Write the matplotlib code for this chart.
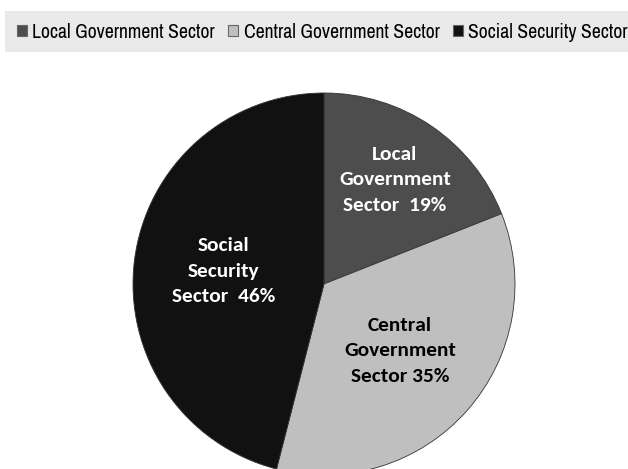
import numpy as np
import matplotlib
matplotlib.use("Agg")
import matplotlib.pyplot as plt
from matplotlib.patches import Rectangle, Patch
from matplotlib import font_manager as fm

categories = ["Local Government Sector", "Central Government Sector", "Social Security Sector"]
values = [19, 35, 46]
labels = ["Local\nGovernment\nSector  19%", "Central\nGovernment\nSector 35%", "Social\nSecurity\nSector  46%"]
colors = ["#4d4d4d", "#bfbfbf", "#111111"]
label_colors = ["white", "black", "white"]
label_dist = [0.66, 0.53, 0.53]

names = {f.name for f in fm.fontManager.ttflist}
legend_font = next((n for n in ["Liberation Sans Narrow", "Archivo Narrow", "Liberation Sans"] if n in names))
label_font = "Carlito" if "Carlito" in names else "Open Sans"

W, H = 628, 469
fig = plt.figure(figsize=(W / 100, H / 100), dpi=100)

# legend band
fig.patches.append(Rectangle((5 / W, 1 - 52 / H), (W - 5) / W, 41 / H,
                             transform=fig.transFigure, facecolor="#e9e9e9",
                             edgecolor="none", zorder=0))

cx, cy, r = 324, 284, 191
ax = fig.add_axes([(cx - r) / W, (H - cy - r) / H, 2 * r / W, 2 * r / H])
wedges, _ = ax.pie(values, colors=colors, startangle=90, counterclock=False,
                   radius=1.0, wedgeprops=dict(edgecolor="#333333", linewidth=0.6))
ax.set_xlim(-1, 1)
ax.set_ylim(-1, 1)
ax.set_aspect("equal")
ax.axis("off")

for w, lab, c, d in zip(wedges, labels, label_colors, label_dist):
    ang = np.deg2rad((w.theta1 + w.theta2) / 2)
    ax.text(d * np.cos(ang), d * np.sin(ang), lab, ha="center", va="center",
            color=c, fontsize=15.4, fontweight="bold", family=label_font,
            linespacing=1.6)

fs = 14.2
handles = [Patch(facecolor=c, edgecolor="#666666", linewidth=0.8) for c in colors]
fig.legend(handles, categories, loc="center left", bbox_to_anchor=(17 / W, 1 - 32 / H),
           ncol=3, frameon=False, prop=dict(family=legend_font, size=fs),
           handlelength=0.52, handleheight=0.52, handletextpad=0.26, columnspacing=0.67,
           borderaxespad=0, borderpad=0)

fig.savefig("out.png", dpi=100)
